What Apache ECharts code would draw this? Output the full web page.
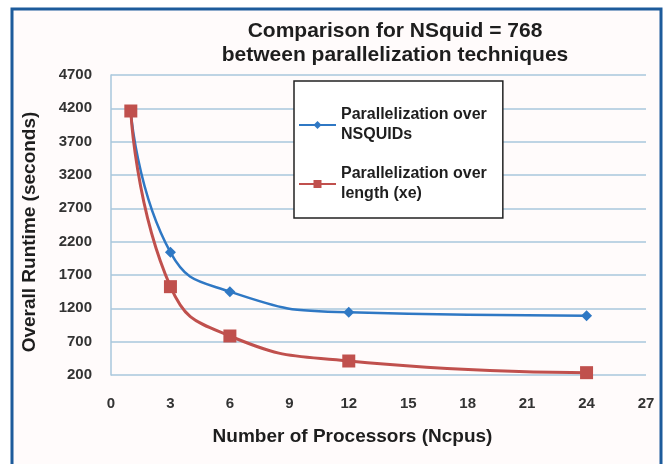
<!DOCTYPE html>
<html>
<head>
<meta charset="utf-8">
<script src="https://cdn.jsdelivr.net/npm/echarts@6/dist/echarts.min.js"></script>
<style>
  html, body { margin: 0; padding: 0; background: #ffffff; }
  #main { width: 665px; height: 464px; }
</style>
</head>
<body>
<div id="main"></div>
<script>
// x = number of processors, y = runtime in seconds
var ncpus = [1, 3, 6, 12, 24];
var overNsquids = [4150, 2040, 1450, 1140, 1090];
var overLength = [4160, 1525, 785, 410, 235];
var yTicks = [200, 700, 1200, 1700, 2200, 2700, 3200, 3700, 4200, 4700];

var chart = echarts.init(document.getElementById('main'));
var font = 'Liberation Sans, Arial, sans-serif';

function pairs(xs, ys) {
  return xs.map(function (x, i) { return [x, ys[i]]; });
}

var option = {
  animation: false,
  backgroundColor: '#ffffff',
  graphic: [{
    type: 'rect',
    z: -10,
    shape: { x: 12, y: 9, width: 649, height: 470 },
    style: { fill: '#fffbfb', stroke: '#1d5b9b', lineWidth: 3 }
  }],
  title: {
    text: 'Comparison for NSquid = 768\nbetween parallelization techniques',
    left: 390,
    top: 14,
    textAlign: 'center',
    textStyle: { fontFamily: font, fontSize: 21, fontWeight: 'bold', color: '#1e1e1e', lineHeight: 24 }
  },
  legend: {
    orient: 'vertical',
    left: 294,
    top: 81,
    padding: [24, 16, 14, 4],
    itemGap: 19,
    itemWidth: 37,
    itemHeight: 10,
    borderColor: '#222',
    borderWidth: 1.5,
    backgroundColor: '#ffffff',
    textStyle: { fontFamily: font, fontSize: 16, fontWeight: 'bold', color: '#1e1e1e', lineHeight: 20 },
    data: ['Parallelization over\nNSQUIDs', 'Parallelization over\nlength (xe)']
  },
  grid: { left: 111, right: 19, top: 75, bottom: 89 },
  xAxis: {
    type: 'value',
    min: 0, max: 27, interval: 3,
    name: 'Number of Processors (Ncpus)',
    nameLocation: 'middle',
    nameGap: 52,
    nameTextStyle: { fontFamily: font, fontSize: 19, fontWeight: 'bold', color: '#1e1e1e', padding: [0, 52, 0, 0] },
    axisLine: { show: false },
    axisTick: { show: false },
    splitLine: { show: false },
    axisLabel: { margin: 21, fontFamily: font, fontSize: 15, fontWeight: 'bold', color: '#333' }
  },
  yAxis: {
    type: 'value',
    min: 200, max: 4700,
    name: 'Overall Runtime (seconds)',
    nameLocation: 'middle',
    nameGap: 72,
    nameTextStyle: { fontFamily: font, fontSize: 19, fontWeight: 'bold', color: '#1e1e1e', padding: [0, 14, 0, 0] },
    axisLine: { show: true, lineStyle: { color: '#a9c7dc', width: 1.5 } },
    axisTick: { show: false, customValues: yTicks },
    splitLine: { show: true, lineStyle: { color: '#a9c7dc', width: 1.5 } },
    axisLabel: {
      customValues: yTicks,
      margin: 19,
      fontFamily: font, fontSize: 15, fontWeight: 'bold', color: '#333',
      formatter: function (v) { return String(v); }
    }
  },
  series: [
    {
      name: 'Parallelization over\nNSQUIDs',
      type: 'line',
      smooth: 0.5,
      data: pairs(ncpus, overNsquids),
      symbol: 'diamond',
      symbolSize: 11,
      lineStyle: { color: '#2f78c4', width: 2.5 },
      itemStyle: { color: '#2f78c4' },
      z: 3
    },
    {
      name: 'Parallelization over\nlength (xe)',
      type: 'line',
      smooth: 0.5,
      data: pairs(ncpus, overLength),
      symbol: 'rect',
      symbolSize: 13,
      lineStyle: { color: '#c0504d', width: 3 },
      itemStyle: { color: '#c0504d' },
      z: 4
    }
  ]
};

chart.setOption(option);
</script>
</body>
</html>
